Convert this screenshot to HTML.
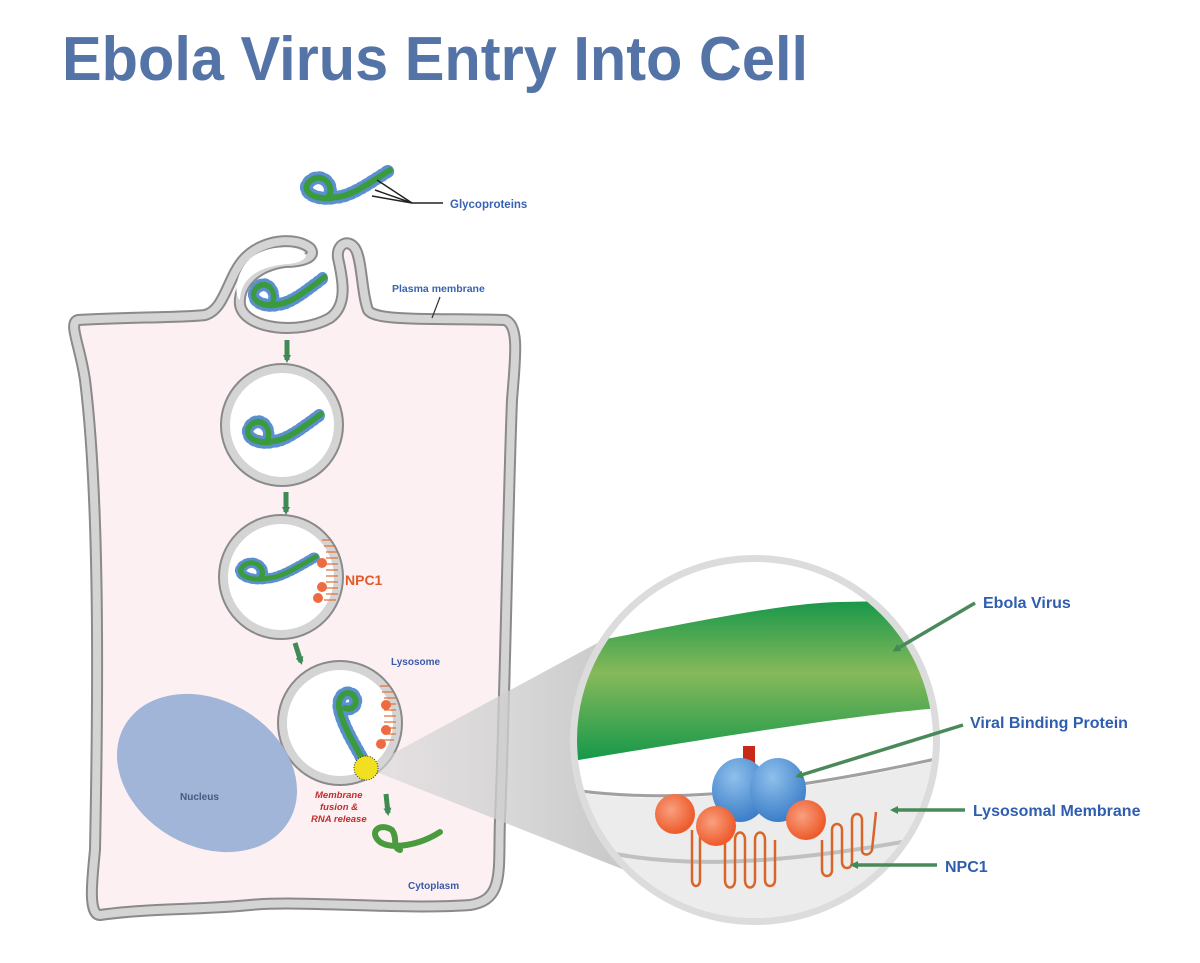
<!DOCTYPE html>
<html><head><meta charset="utf-8"><style>
html,body{margin:0;padding:0;background:#fff;width:1200px;height:963px;overflow:hidden}
svg{display:block}
text{font-family:"Liberation Sans",sans-serif;font-weight:bold}
</style></head><body>
<svg width="1200" height="963" viewBox="0 0 1200 963" xmlns="http://www.w3.org/2000/svg">
<defs>
<linearGradient id="gb" x1="0" y1="0" x2="0" y2="1">
<stop offset="0" stop-color="#17974a"/><stop offset="0.45" stop-color="#86b95a"/><stop offset="1" stop-color="#12974a"/>
</linearGradient>
<linearGradient id="cg" x1="0" y1="0" x2="1" y2="0">
<stop offset="0" stop-color="#d8d8d8" stop-opacity="0.6"/><stop offset="1" stop-color="#c4c4c4"/>
</linearGradient>
<radialGradient id="og" cx="0.4" cy="0.4" r="0.6"><stop offset="0" stop-color="#f8a080"/><stop offset="1" stop-color="#ee5a2a"/></radialGradient>
<radialGradient id="bg" cx="0.4" cy="0.3" r="0.7"><stop offset="0" stop-color="#8fc0ec"/><stop offset="1" stop-color="#3c7ec8"/></radialGradient>
<clipPath id="cc"><circle cx="755" cy="740" r="178"/></clipPath>
<g id="vir">
<path d="M32,30 C12,32 0,22 10,13 C22,3 36,18 28,29 C45,32 62,20 90,2" fill="none" stroke="#5b8fd0" stroke-width="13" stroke-dasharray="2 4" stroke-linecap="round"/>
<path d="M32,30 C12,32 0,22 10,13 C22,3 36,18 28,29 C45,32 62,20 90,2" fill="none" stroke="#3c9a3e" stroke-width="6" stroke-linecap="round"/>
</g>
<marker id="ah" markerWidth="8" markerHeight="8" refX="5" refY="4" orient="auto" markerUnits="userSpaceOnUse"><path d="M0,0 L8,4 L0,8 Z" fill="#3f8a55"/></marker>
</defs>

<text x="62" y="80" font-size="62" fill="#5473a6" textLength="746" lengthAdjust="spacingAndGlyphs">Ebola Virus Entry Into Cell</text>

<!-- cell -->
<path d="M78,320 C120,317 180,318 205,315 C225,310 228,275 245,258 C262,240 295,236 310,248 C318,258 300,262 285,262 C255,266 238,285 240,305 C245,330 300,335 330,318 C348,305 343,280 338,258 C336,243 350,238 356,250 C362,262 362,295 368,310 C375,322 440,318 505,320 C520,325 515,360 512,400 C508,500 505,700 500,820 C498,870 505,900 470,905 C400,910 300,900 250,905 C200,910 150,908 100,915 C88,915 92,880 95,850 C98,700 100,500 85,380 C80,345 68,323 78,320 Z" fill="#fcf0f3" stroke="#8a8a8a" stroke-width="12" stroke-linejoin="round"/>
<path d="M78,320 C120,317 180,318 205,315 C225,310 228,275 245,258 C262,240 295,236 310,248 C318,258 300,262 285,262 C255,266 238,285 240,305 C245,330 300,335 330,318 C348,305 343,280 338,258 C336,243 350,238 356,250 C362,262 362,295 368,310 C375,322 440,318 505,320 C520,325 515,360 512,400 C508,500 505,700 500,820 C498,870 505,900 470,905 C400,910 300,900 250,905 C200,910 150,908 100,915 C88,915 92,880 95,850 C98,700 100,500 85,380 C80,345 68,323 78,320 Z" fill="none" stroke="#d4d4d4" stroke-width="8" stroke-linejoin="round"/>
<path d="M240,300 C241,277 260,266 288,264 C300,263 306,259 306,255 C298,245 270,244 252,257 C236,270 233,295 240,300" fill="#fff"/>

<!-- vesicles -->
<g fill="#fff" stroke="#8a8a8a" stroke-width="12"><circle cx="282" cy="425" r="56"/><circle cx="281" cy="577" r="57"/><circle cx="340" cy="723" r="57"/></g>
<g fill="#fff" stroke="#d4d4d4" stroke-width="8"><circle cx="282" cy="425" r="56"/><circle cx="281" cy="577" r="57"/><circle cx="340" cy="723" r="57"/></g>

<!-- green arrows -->
<g stroke="#3f8a55" stroke-width="5" marker-end="url(#ah)">
<line x1="287" y1="340" x2="287" y2="360"/><line x1="286" y1="492" x2="286" y2="512"/>
<line x1="295" y1="643" x2="301" y2="662"/><line x1="386" y1="794" x2="388" y2="813"/>
</g>

<!-- viruses -->
<use href="#vir" transform="translate(300,168)"/>
<line x1="377" y1="180" x2="412" y2="203" stroke="#222" stroke-width="1.5"/>
<line x1="375" y1="190" x2="412" y2="203" stroke="#222" stroke-width="1.5"/>
<line x1="372" y1="196" x2="412" y2="203" stroke="#222" stroke-width="1.5"/>
<line x1="412" y1="203" x2="443" y2="203" stroke="#222" stroke-width="1.5"/>
<text x="450" y="208" font-size="11.5" fill="#3a62b0">Glycoproteins</text>
<use href="#vir" transform="translate(248,275) scale(0.85,1)"/>
<use href="#vir" transform="translate(242,412) scale(0.88,1)"/>
<use href="#vir" transform="translate(235,555) scale(0.9,0.8)"/>
<path d="M364,762 C355,745 345,730 340,712 C336,698 344,690 352,694 C360,700 354,712 345,708" fill="none" stroke="#5b8fd0" stroke-width="13" stroke-dasharray="2 4" stroke-linecap="round"/>
<path d="M364,762 C355,745 345,730 340,712 C336,698 344,690 352,694 C360,700 354,712 345,708" fill="none" stroke="#3c9a3e" stroke-width="6" stroke-linecap="round"/>

<!-- NPC1 small -->
<g stroke="#e0703a" stroke-width="1.2" fill="none">
<path d="M322,540 h10 M324,546 h12 M326,552 h12 M326,558 h12 M326,564 h12 M326,570 h12 M326,576 h12 M326,582 h12 M326,588 h12 M326,594 h12 M324,600 h12"/>
<path d="M380,686 h10 M382,692 h12 M384,698 h12 M384,704 h12 M384,710 h12 M384,716 h12 M384,722 h12 M384,728 h12 M384,734 h12 M382,740 h12"/>
</g>
<g fill="#ee6a40"><circle cx="322" cy="563" r="5"/><circle cx="322" cy="587" r="5"/><circle cx="318" cy="598" r="5"/>
<circle cx="386" cy="705" r="5"/><circle cx="386" cy="730" r="5"/><circle cx="381" cy="744" r="5"/></g>
<text x="345" y="585" font-size="14" fill="#e25a2a">NPC1</text>
<text x="391" y="665" font-size="10" fill="#3a5aa8">Lysosome</text>

<!-- nucleus -->
<ellipse cx="207" cy="773" rx="95" ry="73" transform="rotate(30 207 773)" fill="#a0b5d8"/>
<text x="180" y="800" font-size="10" fill="#445a80">Nucleus</text>

<!-- zoom cone -->
<polygon points="366,768 640,620 650,880" fill="url(#cg)"/>
<circle cx="366" cy="768" r="12" fill="#f0e020" stroke="#333" stroke-width="1" stroke-dasharray="1 1.5"/>
<text font-size="9.5" fill="#c0302a" font-style="italic"><tspan x="315" y="798">Membrane</tspan><tspan x="320" y="810">fusion &amp;</tspan><tspan x="311" y="822">RNA release</tspan></text>
<path d="M440,832 C420,845 392,850 380,842 C368,832 380,822 392,830 C398,838 392,848 400,850" fill="none" stroke="#4a9a3e" stroke-width="6" stroke-linecap="round"/>
<text x="408" y="889" font-size="10" fill="#3a5aa8">Cytoplasm</text>

<!-- big circle -->
<circle cx="755" cy="740" r="185" fill="#dcdcdc"/>
<circle cx="755" cy="740" r="178" fill="#fff"/>
<g clip-path="url(#cc)">
<path d="M560,648 C680,625 780,603 840,602 L940,600 L940,708 C850,715 700,740 560,763 Z" fill="url(#gb)"/>
<path d="M560,790 C650,805 760,800 940,760 L940,950 L560,950 Z" fill="#ececec"/>
<path d="M560,788 C650,803 760,798 940,758" fill="none" stroke="#a0a0a0" stroke-width="3"/>
<path d="M560,840 C650,870 760,870 940,835" fill="none" stroke="#c0c0c0" stroke-width="4"/>
<rect x="743" y="746" width="12" height="30" fill="#c82a1a"/>
<ellipse cx="740" cy="790" rx="28" ry="32" fill="url(#bg)"/>
<ellipse cx="778" cy="790" rx="28" ry="32" fill="url(#bg)"/>
<path d="M692,830 L692,880 C692,888 700,888 700,880 L700,835 M725,835 L725,880 C725,890 735,890 735,880 L735,840 C735,830 745,830 745,840 L745,880 C745,890 755,890 755,880 L755,840 C755,830 765,830 765,840 L765,880 C765,888 775,888 775,880 L775,840 M822,840 L822,870 C822,878 832,878 832,870 L832,830 C832,822 842,822 842,830 L842,862 C842,870 852,870 852,862 L852,820 C852,812 862,812 862,820 L862,850 C862,856 870,856 872,850 L876,812" fill="none" stroke="#d8662a" stroke-width="2.5"/>
<circle cx="675" cy="814" r="20" fill="url(#og)"/>
<circle cx="716" cy="826" r="20" fill="url(#og)"/>
<circle cx="806" cy="820" r="20" fill="url(#og)"/>
</g>

<!-- labels -->
<g stroke="#4a8a5a" stroke-width="3.5" marker-end="url(#ah)">
<line x1="975" y1="603" x2="895" y2="650"/>
<line x1="963" y1="725" x2="798" y2="776"/>
<line x1="965" y1="810" x2="893" y2="810"/>
<line x1="937" y1="865" x2="853" y2="865"/>
</g>
<text x="983" y="608" font-size="16" fill="#2f5eb0">Ebola Virus</text>
<text x="970" y="728" font-size="16" fill="#2f5eb0">Viral Binding Protein</text>
<text x="973" y="816" font-size="16" fill="#2f5eb0">Lysosomal Membrane</text>
<text x="945" y="872" font-size="16" fill="#2f5eb0">NPC1</text>
<text x="392" y="292" font-size="10.5" fill="#3a62b0">Plasma membrane</text>
<line x1="440" y1="297" x2="432" y2="318" stroke="#333" stroke-width="1.2"/>
</svg>
</body></html>
